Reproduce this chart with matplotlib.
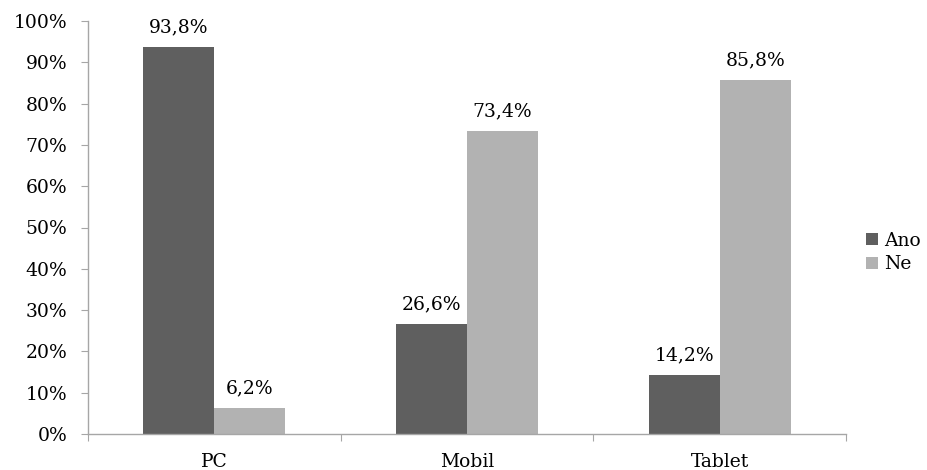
import matplotlib
matplotlib.use("Agg")
import matplotlib.pyplot as plt
import numpy as np
from matplotlib.ticker import FixedLocator, NullFormatter

categories = ["PC", "Mobil", "Tablet"]
ano = [93.8, 26.6, 14.2]
ne = [6.2, 73.4, 85.8]
series_names = ["Ano", "Ne"]
y_ticks = [0, 10, 20, 30, 40, 50, 60, 70, 80, 90, 100]

DARK = "#5f5f5f"
LIGHT = "#b2b2b2"
AXIS = "#a6a6a6"
FS = 13.5

plt.rcParams["font.family"] = ["DejaVu Serif"]

fig = plt.figure(figsize=(9.28, 4.70), dpi=100)
ax = fig.add_axes([88 / 928, 36 / 470, 758 / 928, 413 / 470])

x = np.arange(len(categories))
w = 0.281
b1 = ax.bar(x - w / 2, ano, w, color=DARK, label=series_names[0])
b2 = ax.bar(x + w / 2, ne, w, color=LIGHT, label=series_names[1])

for bars, vals in ((b1, ano), (b2, ne)):
    for rect, v in zip(bars, vals):
        ax.annotate(f"{v:.1f}%".replace(".", ","),
                    (rect.get_x() + rect.get_width() / 2, v),
                    xytext=(0, 10.5), textcoords="offset points",
                    ha="center", va="baseline", fontsize=FS)

ax.set_xlim(-0.5, len(categories) - 0.5)
ax.set_ylim(0, 100)
ax.set_yticks(y_ticks)
ax.set_yticklabels([f"{t}%" for t in y_ticks], fontsize=FS)

# category names sit between the group separator ticks
ax.xaxis.set_major_locator(FixedLocator(np.arange(len(categories) + 1) - 0.5))
ax.xaxis.set_major_formatter(NullFormatter())
ax.xaxis.set_minor_locator(FixedLocator(x))
ax.set_xticklabels(categories, minor=True, fontsize=FS)
ax.tick_params(axis="x", which="minor", length=0, pad=14)
ax.tick_params(axis="x", which="major", length=5, color=AXIS, direction="out")
ax.tick_params(axis="y", length=5, color=AXIS, direction="out", pad=10)

for s in ("top", "right"):
    ax.spines[s].set_visible(False)
for s in ("left", "bottom"):
    ax.spines[s].set_color(AXIS)
    ax.spines[s].set_linewidth(1.0)

ax.legend(loc="center left", bbox_to_anchor=(866 / 928, 1 - 252.5 / 470),
          bbox_transform=fig.transFigure, frameon=False,
          fontsize=FS, handlelength=0.62, handleheight=0.62,
          handletextpad=0.35, labelspacing=0.3, borderaxespad=0, borderpad=0)

fig.savefig("out.png", dpi=100)
